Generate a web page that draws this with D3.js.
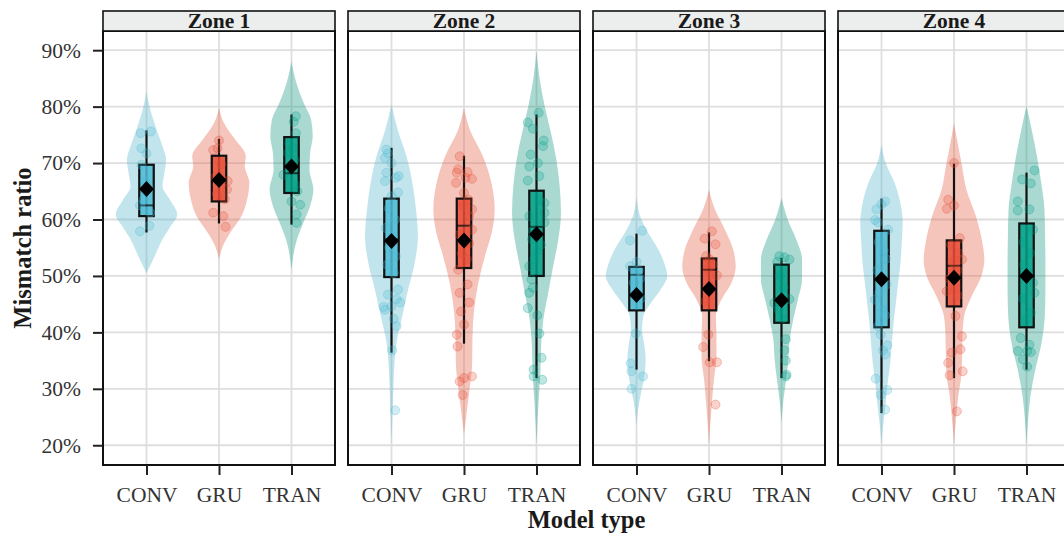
<!DOCTYPE html>
<html>
<head>
<meta charset="utf-8">
<script src="https://cdn.jsdelivr.net/npm/d3@7"></script>
<style>
  html, body { margin: 0; padding: 0; background: #ffffff; }
  svg { display: block; }
  text { font-family: "Liberation Serif", "Times New Roman", serif; }
</style>
</head>
<body>
<svg id="chart" width="1064" height="536"></svg>
<script>
// ---- data ---------------------------------------------------------------
const zones = ["Zone 1", "Zone 2", "Zone 3", "Zone 4"];
const models = ["CONV", "GRU", "TRAN"];
const yTicks = [20, 30, 40, 50, 60, 70, 80, 90];

// box summaries per model: [lower whisker, Q1, median, Q3, upper whisker]
const zone1Box = [[57.7, 60.6, 62.5, 69.7, 75.8], [59.3, 63.2, 66.8, 71.3, 74.3], [59.1, 64.7, 68.2, 74.6, 78.6]];
const zone2Box = [[36.4, 49.8, 56.5, 63.7, 72.7], [38.0, 51.4, 58.9, 63.7, 71.3], [31.9, 50.0, 58.7, 65.1, 78.6]];
const zone3Box = [[33.4, 43.9, 50.2, 51.6, 57.5], [34.9, 43.9, 51.1, 53.1, 57.7], [31.9, 41.7, 46.0, 52.0, 53.2]];
const zone4Box = [[25.7, 40.9, 49.5, 58.0, 63.7], [31.9, 44.6, 51.8, 56.3, 69.9], [33.4, 40.9, 50.0, 59.3, 68.3]];

// group means (CONV, GRU, TRAN)
const zone1Mean = [65.4, 67.0, 69.4];
const zone2Mean = [56.2, 56.3, 57.4];
const zone3Mean = [46.6, 47.7, 45.7];
const zone4Mean = [49.4, 49.7, 50.0];

// violin density profiles: [value, relative density]
const zone1Violin = [
  [[82.7, 0], [80.1, .09], [75.9, .31], [73, .49], [70.6, .6], [68.3, .55], [65.9, .49], [63.5, .72], [60.9, .94], [58.8, .74], [56.5, .49], [53.5, .25], [50.5, 0]],
  [[79.8, 0], [77.1, .15], [74.2, .49], [71.2, .82], [69.5, .79], [66.5, .93], [63.5, .86], [60.6, .69], [57.6, .34], [55.3, .12], [52.9, 0]],
  [[88, 0], [84.2, .15], [80.7, .37], [77.7, .6], [74.8, .65], [71.8, .57], [68.9, .55], [65.3, .67], [62.4, .57], [59.4, .36], [56.5, .17], [51.1, 0]]
];
const zone2Violin = [
  [[80.4, 0], [75.9, .19], [71.2, .46], [66.5, .64], [61.8, .75], [57, .81], [52.3, .71], [47.6, .51], [42.9, .33], [38.1, .15], [33.4, .08], [28.7, .05], [20.1, 0]],
  [[79.8, 0], [75.9, .18], [71.2, .58], [66.5, .84], [61.8, .94], [58.2, .87], [53.5, .64], [48.8, .44], [44, .31], [39.3, .26], [34.6, .25], [29.9, .17], [25.7, .08], [21.9, 0]],
  [[89.8, 0], [84.8, .1], [80.1, .25], [75.4, .44], [70.6, .61], [65.9, .71], [61.2, .75], [56.5, .67], [51.7, .51], [47, .36], [42.3, .21], [37.5, .14], [32.8, .12], [27.5, .06], [20.1, 0]]
];
const zone3Violin = [
  [[64.1, 0], [60.6, .11], [57.6, .36], [54.7, .67], [52.3, .85], [50, .94], [47.6, .74], [45.2, .44], [42.9, .21], [40.5, .17], [38.1, .23], [35.2, .28], [32.2, .24], [29.3, .14], [26.3, .05], [23.4, 0]],
  [[65.3, 0], [61.8, .18], [58.2, .49], [54.7, .74], [51.7, .82], [48.8, .69], [45.8, .38], [42.9, .21], [39.3, .23], [35.8, .23], [31.6, .15], [26.9, .08], [20.1, 0]],
  [[63.8, 0], [60, .19], [56.5, .45], [52.9, .63], [49.4, .63], [45.8, .5], [42.3, .36], [38.7, .25], [35.2, .21], [31.6, .14], [28.1, .06], [24, 0]]
];
const zone4Violin = [
  [[73.3, 0], [70, .13], [66.5, .4], [62.9, .58], [59.4, .65], [55.9, .62], [52.3, .58], [48.8, .51], [45.2, .44], [41.7, .37], [38.1, .32], [34.6, .27], [31.1, .19], [27.5, .13], [24, .06], [20.1, 0]],
  [[77.1, 0], [73.6, .11], [70, .23], [65.3, .38], [60.6, .67], [55.9, .87], [52.9, .93], [50, .84], [46.4, .54], [42.9, .31], [39.3, .26], [35.8, .25], [32.2, .22], [28.7, .13], [24.6, .06], [20.1, 0]],
  [[80.1, 0], [75.9, .16], [71.2, .32], [66.5, .45], [61.8, .55], [57, .57], [52.3, .58], [47.6, .58], [42.9, .56], [38.1, .46], [33.4, .27], [28.7, .12], [24.6, .05], [20.1, 0]]
];

// individual runs: [value, jittered offset in category units]
const zone1Points = [
  [[75.3, -.08], [75.6, .06], [72.6, -.07], [71.7, 0], [69.7, -.07], [66.8, -.02], [65.5, .03], [63.5, -.04], [62.5, -.09], [61.2, .05], [58.9, .04], [57.9, -.09]],
  [[74.0, 0], [72.6, -.02], [72.3, -.08], [69.8, .03], [67.5, -.05], [66.8, .12], [65.3, .11], [64.5, -.03], [63.6, .08], [61.2, -.08], [60.6, .06], [58.7, .09]],
  [[78.3, .06], [77.3, .03], [75.3, .06], [73.5, -.03], [72.6, .02], [71.8, -.05], [70.6, .04], [69.5, .02], [67.9, -.11], [66.2, .05], [65.0, .08], [63.2, 0], [62.6, .12], [60.9, .07], [59.4, .07]]
];
const zone2Points = [
  [[72.4, -.07], [71.7, -.05], [70.9, -.09], [70.0, 0], [68.3, -.07], [67.7, .10], [67.4, .06], [66.8, -.09], [64.8, .09], [64.1, 0], [62.0, -.04], [60.0, .05], [58.5, -.08], [57.0, .02], [55.0, -.03], [53.5, .06], [52.0, -.06], [50.5, .03], [47.6, .09], [46.7, -.05], [45.9, .07], [45.3, .12], [44.6, 0], [44.5, -.11], [44.0, -.09], [42.4, .03], [41.1, .07], [36.8, .01], [26.2, .05]],
  [[71.2, -.06], [68.9, -.08], [68.4, .05], [68.3, -.10], [67.4, .02], [67.2, .11], [66.5, -.11], [64.7, 0], [63.5, .06], [62.4, -.01], [61.8, .11], [60.6, .07], [58.2, .11], [57.3, -.06], [55.8, .07], [54.0, -.03], [53.0, .04], [51.1, -.08], [48.5, .05], [47.0, -.06], [45.3, .07], [43.7, -.04], [41.4, 0], [39.6, -.10], [37.5, -.09], [32.2, .11], [31.9, 0], [31.3, -.06], [28.9, -.02]],
  [[78.9, .03], [77.2, -.12], [76.1, -.05], [74.0, .10], [73.0, .09], [71.5, -.08], [70.0, .02], [69.4, -.10], [67.7, .04], [66.9, -.12], [63.5, .03], [62.9, .11], [61.2, .11], [60.6, -.10], [59.5, .11], [58.0, -.05], [56.5, -.06], [55.5, .06], [54.4, 0], [53.0, -.03], [51.7, -.10], [49.4, -.07], [47.9, -.05], [47.0, -.10], [44.3, -.12], [43.0, .01], [39.8, .04], [35.5, .07], [33.4, -.04], [32.2, -.04], [31.6, .08]]
];
const zone3Points = [
  [[58.0, .08], [56.3, -.09], [52.5, 0], [51.7, -.09], [51.0, .03], [50.5, -.02], [49.5, .05], [48.8, -.04], [47.0, .01], [46.0, .06], [44.9, 0], [39.8, -.01], [34.5, -.08], [33.1, -.07], [32.2, .09], [30.0, -.07]],
  [[57.9, .04], [56.6, -.06], [55.6, .09], [53.5, -.04], [52.9, .01], [52.0, .05], [51.2, -.02], [50.1, .11], [48.0, .03], [45.5, -.05], [39.6, -.01], [37.4, -.08], [34.7, .01], [34.7, .11], [27.2, .09]],
  [[53.5, -.03], [53.3, .04], [52.9, .11], [52.5, -.06], [50.0, -.02], [48.0, .03], [45.9, .11], [45.2, -.10], [44.0, -.04], [42.5, .02], [38.8, .06], [36.8, .04], [35.0, .06], [32.5, .07], [32.2, .06]]
];
const zone4Points = [
  [[63.2, .05], [62.7, 0], [61.8, -.07], [59.9, -.09], [59.5, -.05], [58.2, .09], [56.0, -.04], [54.5, .03], [53.0, .06], [51.0, -.06], [48.5, .07], [47.0, -.03], [45.8, -.09], [44.0, .01], [43.0, .05], [41.1, -.05], [39.6, -.01], [37.7, .08], [36.8, .02], [36.1, .05], [31.8, -.08], [29.8, .08], [28.9, -.01], [26.3, .05]],
  [[70.0, 0], [63.5, -.08], [62.5, 0], [61.9, -.10], [56.7, .08], [55.5, -.04], [54.0, .06], [52.9, .11], [52.5, -.02], [51.0, .05], [49.5, -.06], [48.0, .02], [47.3, -.10], [46.5, .05], [42.9, .02], [39.3, .11], [37.0, .09], [36.4, -.03], [34.6, -.08], [33.1, .12], [32.4, -.06], [26.0, .04]],
  [[68.7, .11], [67.1, -.06], [66.4, .06], [63.2, -.12], [61.8, .04], [61.6, -.12], [58.2, .09], [56.0, -.04], [54.0, .05], [52.0, -.03], [50.5, .02], [48.8, .09], [47.0, .11], [46.0, -.05], [43.5, .06], [42.0, -.02], [39.0, -.08], [37.8, .04], [36.7, -.12], [36.7, .01], [36.5, .06], [35.2, -.05], [33.9, .01]]
];

// ---- assemble per-zone tables ------------------------------------------
const boxes = [zone1Box, zone2Box, zone3Box, zone4Box];
const means = [zone1Mean, zone2Mean, zone3Mean, zone4Mean];
const violins = [zone1Violin, zone2Violin, zone3Violin, zone4Violin];
const points = [zone1Points, zone2Points, zone3Points, zone4Points];

const groups = [];
zones.forEach((zone, zi) => {
  models.forEach((model, mi) => {
    const b = boxes[zi][mi];
    groups.push({
      zone, model,
      lo: b[0], q1: b[1], med: b[2], q3: b[3], hi: b[4],
      mean: means[zi][mi],
      violin: violins[zi][mi],
      points: points[zi][mi]
    });
  });
});

// ---- layout ------------------------------------------------------------
const palette = { CONV: "#4DBBD5", GRU: "#E64B35", TRAN: "#00A087" };
const violinTint = { CONV: "#5fb8cc", GRU: "#e5634c", TRAN: "#1f9c86" };
const panelTop = 31, panelBottom = 465, stripTop = 11;
const svg = d3.select("#chart");

const panelX = d3.scaleBand().domain(zones).range([103, 1070]).paddingInner(13 / 245);
const y = d3.scaleLinear().domain([16.5, 93.4]).range([panelBottom, panelTop]);
const innerX = d3.scalePoint().domain(models).range([0, panelX.bandwidth()]).padding(0.6);
const step = innerX.step();
const w = d3.scaleLinear().domain([0, 1]).range([0, 0.45 * step]);

const fontSize = 21.5;

zones.forEach(zone => {
  const x0 = panelX(zone);
  const pw = panelX.bandwidth();
  const g = svg.append("g").attr("transform", `translate(${x0},0)`);

  // grid
  g.append("g").selectAll("line.h").data(yTicks).join("line")
    .attr("x1", 0).attr("x2", pw)
    .attr("y1", d => y(d)).attr("y2", d => y(d))
    .attr("stroke", "#dedede").attr("stroke-width", 1.8);
  g.append("g").selectAll("line.v").data(models).join("line")
    .attr("x1", d => innerX(d)).attr("x2", d => innerX(d))
    .attr("y1", panelTop).attr("y2", panelBottom)
    .attr("stroke", "#dedede").attr("stroke-width", 1.8);

  const zg = groups.filter(d => d.zone === zone);

  // violins
  zg.forEach(d => {
    const cx = innerX(d.model);
    const area = d3.area()
      .curve(d3.curveMonotoneY)
      .y(p => y(p[0]))
      .x0(p => cx - w(p[1]))
      .x1(p => cx + w(p[1]));
    g.append("path").attr("d", area(d.violin))
      .attr("fill", violinTint[d.model]).attr("fill-opacity", 0.38);
  });

  // boxplots
  const bw = 0.2 * step;
  zg.forEach(d => {
    const cx = innerX(d.model);
    g.append("line")
      .attr("x1", cx).attr("x2", cx).attr("y1", y(d.lo)).attr("y2", y(d.hi))
      .attr("stroke", "#111").attr("stroke-width", 2.2);
    g.append("rect")
      .attr("x", cx - bw / 2).attr("width", bw)
      .attr("y", y(d.q3)).attr("height", y(d.q1) - y(d.q3))
      .attr("fill", palette[d.model]).attr("fill-opacity", 0.85)
      .attr("stroke", "#111").attr("stroke-width", 2.2);
    g.append("line")
      .attr("x1", cx - bw / 2).attr("x2", cx + bw / 2)
      .attr("y1", y(d.med)).attr("y2", y(d.med))
      .attr("stroke", "#111").attr("stroke-opacity", 0.75).attr("stroke-width", 2);
  });

  // jittered runs
  zg.forEach(d => {
    const cx = innerX(d.model);
    g.append("g").selectAll("circle").data(d.points).join("circle")
      .attr("cx", p => cx + p[1] * step)
      .attr("cy", p => y(p[0]))
      .attr("r", 4.5)
      .attr("fill", palette[d.model]).attr("fill-opacity", 0.25)
      .attr("stroke", palette[d.model]).attr("stroke-opacity", 0.3).attr("stroke-width", 1);
  });

  // means
  zg.forEach(d => {
    const cx = innerX(d.model), cy = y(d.mean);
    const hw = 7.5, hh = 8;
    g.append("path")
      .attr("d", `M${cx},${cy - hh}L${cx + hw},${cy}L${cx},${cy + hh}L${cx - hw},${cy}Z`)
      .attr("fill", "#000");
  });

  // panel border
  g.append("rect").attr("x", 0).attr("y", panelTop).attr("width", pw).attr("height", panelBottom - panelTop)
    .attr("fill", "none").attr("stroke", "#111").attr("stroke-width", 2);

  // strip
  g.append("rect").attr("x", 0).attr("y", stripTop).attr("width", pw).attr("height", panelTop - stripTop)
    .attr("fill", "#eceded").attr("stroke", "#111").attr("stroke-width", 1.6);
  g.append("text").attr("x", pw / 2).attr("y", 28.3)
    .attr("text-anchor", "middle").attr("font-weight", "bold")
    .attr("font-size", fontSize).attr("fill", "#1a1a1a").text(zone);

  // x axis
  const xAxis = g.append("g").attr("transform", `translate(0,${panelBottom})`)
    .call(d3.axisBottom(innerX).tickSize(10).tickPadding(11.5));
  xAxis.select(".domain").remove();
  xAxis.selectAll(".tick line").attr("stroke", "#222").attr("stroke-width", 2);
  xAxis.selectAll(".tick text").attr("font-size", fontSize).attr("fill", "#333")
    .attr("font-family", "Liberation Serif, Times New Roman, serif");
});

// y axis on the first panel
const yAxis = svg.append("g").attr("transform", `translate(${panelX(zones[0])},0)`)
  .call(d3.axisLeft(y).tickValues(yTicks).tickFormat(d => d + "%").tickSize(10).tickPadding(12));
yAxis.select(".domain").remove();
yAxis.selectAll(".tick line").attr("stroke", "#222").attr("stroke-width", 2);
yAxis.selectAll(".tick text").attr("font-size", fontSize).attr("fill", "#333")
  .attr("font-family", "Liberation Serif, Times New Roman, serif");

// axis titles
svg.append("text")
  .attr("transform", `translate(31,${(panelTop + panelBottom) / 2}) rotate(-90)`)
  .attr("text-anchor", "middle").attr("font-weight", "bold").attr("font-size", 24.5)
  .attr("fill", "#1a1a1a").text("Mismatch ratio");
svg.append("text")
  .attr("x", (103 + 1070) / 2).attr("y", 527.5)
  .attr("text-anchor", "middle").attr("font-weight", "bold").attr("font-size", 24.5)
  .attr("fill", "#1a1a1a").text("Model type");
</script>
</body>
</html>
